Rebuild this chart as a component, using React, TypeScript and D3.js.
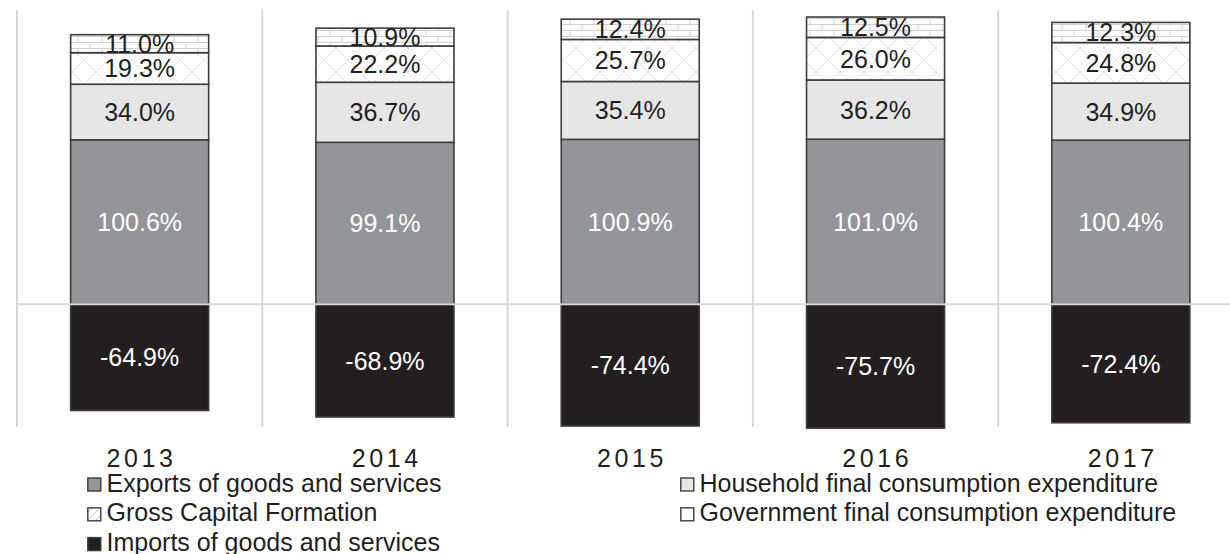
import React from 'react';
import * as d3 from 'd3';

const years = ['2013', '2014', '2015', '2016', '2017'];
const exportsVals = [100.6, 99.1, 100.9, 101.0, 100.4];
const householdVals = [34.0, 36.7, 35.4, 36.2, 34.9];
const gcfVals = [19.3, 22.2, 25.7, 26.0, 24.8];
const govVals = [11.0, 10.9, 12.4, 12.5, 12.3];
const importsVals = [-64.9, -68.9, -74.4, -75.7, -72.4];

// stacking order from zero upward, then the negative one
const series = [
  { key: 'exp', name: 'Exports of goods and services', values: exportsVals, fill: '#939598', text: '#ffffff' },
  { key: 'hh', name: 'Household final consumption expenditure', values: householdVals, fill: '#e6e6e6', text: '#231f20' },
  { key: 'gcf', name: 'Gross Capital Formation', values: gcfVals, fill: 'url(#gcfPat)', text: '#231f20' },
  { key: 'gov', name: 'Government final consumption expenditure', values: govVals, fill: 'url(#brickPat)', text: '#231f20' },
  { key: 'imp', name: 'Imports of goods and services', values: importsVals, fill: '#231f20', text: '#ffffff' },
];

// legend layout: two columns, row-major order
const legendOrder = ['exp', 'hh', 'gcf', 'gov', 'imp'];
const legendSwatch: Record<string, string> = {
  exp: '#939598', hh: '#e6e6e6', gcf: 'url(#gcfSmall)', gov: '#ffffff', imp: '#231f20',
};

const W = 1230;
const H = 554;
const FONT = '"Liberation Sans", Arial, Helvetica, sans-serif';

export default function App() {
  const step = 245.3;
  const x = d3.scaleBand<string>()
    .domain(years)
    .range([17, 17 + step * years.length])
    .padding(0);
  const barW = x.bandwidth() * 0.5626;

  const y = d3.scaleLinear().domain([-75, 180]).range([427, 10]);

  // build segments
  const segs: any[] = [];
  years.forEach((yr, i) => {
    let base = 0;
    series.forEach(s => {
      const v = s.values[i];
      let y0, y1;
      if (v >= 0) { y0 = base; y1 = base + v; base = y1; }
      else { y0 = v; y1 = 0; }
      segs.push({ yr, s, v, y0, y1 });
    });
  });

  const gridXs = d3.range(years.length + 1).map(i => 17 + i * step);

  return (
    <svg width={W} height={H} style={{ position: 'absolute', left: 0, top: 0, background: '#fff' }} fontFamily={FONT}>
      <defs>
        <pattern id="brickPat" patternUnits="userSpaceOnUse" width="24" height="12" x="0" y="0">
          <rect width="24" height="12" fill="#fff" />
          <path d="M0,0.5H24M0,6.5H24M6,0.5V6.5M18,6.5V12.5" stroke="#d0d0d0" strokeWidth="1" fill="none" />
        </pattern>
        <pattern id="gcfPat" patternUnits="userSpaceOnUse" width="24" height="24">
          <rect width="24" height="24" fill="#fff" />
          <path d="M0,24L24,0M0,0L24,24" stroke="#d6d6d6" strokeWidth="1" strokeDasharray="2,2" fill="none" />
        </pattern>
        <pattern id="gcfSmall" patternUnits="userSpaceOnUse" width="8" height="8">
          <rect width="8" height="8" fill="#fff" />
          <path d="M0,8L8,0" stroke="#c4c4c4" strokeWidth="1" fill="none" />
        </pattern>
      </defs>

      {/* vertical category separators */}
      {gridXs.map((gx, i) => (
        <line key={'g' + i} x1={gx} x2={gx} y1={y(180)} y2={y(-75)} stroke="#d9d9d9" strokeWidth={2} />
      ))}

      {/* bars */}
      {segs.map((d, i) => {
        const bx = (x(d.yr) as number) + (x.bandwidth() - barW) / 2;
        return (
          <rect key={'r' + i} x={bx} y={y(d.y1)} width={barW} height={y(d.y0) - y(d.y1)}
            fill={d.s.fill} stroke="#3d3d3d" strokeWidth={1.6} />
        );
      })}

      {/* zero line */}
      <line x1={17} x2={W} y1={y(0)} y2={y(0)} stroke="#d9d9d9" strokeWidth={2} />

      {/* value labels */}
      {segs.map((d, i) => {
        const cx = (x(d.yr) as number) + x.bandwidth() / 2;
        const cy = (y(d.y0) + y(d.y1)) / 2;
        return (
          <text key={'t' + i} x={cx} y={cy} dy="0.36em" textAnchor="middle" fontSize={25} fill={d.s.text}>
            {d.v.toFixed(1) + '%'}
          </text>
        );
      })}

      {/* year labels */}
      {years.map(yr => (
        <text key={'y' + yr} x={(x(yr) as number) + x.bandwidth() / 2 + 1.8} y={466.5} textAnchor="middle"
          fontSize={25} letterSpacing={3.6} fill="#231f20">{yr}</text>
      ))}

      {/* legend */}
      {legendOrder.map((k, i) => {
        const s = series.find(ss => ss.key === k)!;
        const col = i % 2;
        const row = Math.floor(i / 2);
        const lx = col === 0 ? 87 : 680;
        const by = 491.5 + row * 29.8;
        return (
          <g key={'l' + k}>
            <rect x={lx + 0.8} y={by - 13.5} width={13} height={13} fill={legendSwatch[k]} stroke="#3d3d3d" strokeWidth={1.4} />
            <text x={lx + 19.5} y={by} fontSize={25} fill="#231f20">{s.name}</text>
          </g>
        );
      })}
    </svg>
  );
}
